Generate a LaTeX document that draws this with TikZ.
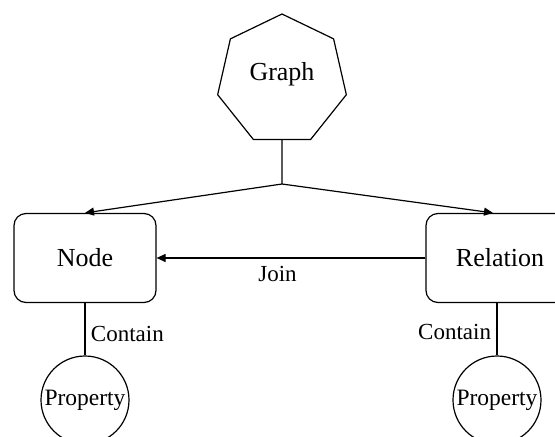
\documentclass[tikz,border=0pt]{standalone}
\usepackage{fontspec}
\setmainfont{Liberation Serif}
\usetikzlibrary{shapes.geometric, arrows.meta, positioning}

\begin{document}
\begin{tikzpicture}[x=1pt, y=-1pt, line width=1.2pt,
  every node/.style={font=\fontsize{26}{30}\selectfont},
  box/.style={draw, rounded corners=12pt, minimum width=142pt, minimum height=89pt},
  prop/.style={draw, circle, minimum size=88pt, inner sep=0pt, font=\fontsize{23.5}{27}\selectfont},
  lbl/.style={font=\fontsize{23}{27}\selectfont},
  pfeil/.style={-{Triangle[length=9pt,width=8pt]}}]
\useasboundingbox (0,0) rectangle (555,437);

% Graph oben
\node[draw, regular polygon, regular polygon sides=7, minimum size=132pt, inner sep=0pt, text depth=18pt] (graph) at (282,80) {Graph};
\coordinate (split) at (282,184);

% Knoten und Relation
\node[box] (node) at (85,258) {Node};
\node[box, minimum width=148pt] (rel) at (500,258) {Relation};

% Eigenschaften
\node[prop] (propL) at (85,400) {Property};
\node[prop] (propR) at (497,400) {Property};

% Verbindungen
\draw (graph.south) -- (split);
\draw[pfeil] (split) -- (node.north);
\draw[pfeil] (split) -- (rel.north -| 493,0);
\draw[pfeil] (rel.west) -- node[pos=0.55, below=4pt, lbl] {Join} (node.east);
\draw (node.south) -- node[right=2pt, lbl, pos=0.6] {Contain} (propL.north);
\draw (rel.south -| propR.north) -- node[left=2pt, lbl, pos=0.55] {Contain} (propR.north);

\end{tikzpicture}
\end{document}
